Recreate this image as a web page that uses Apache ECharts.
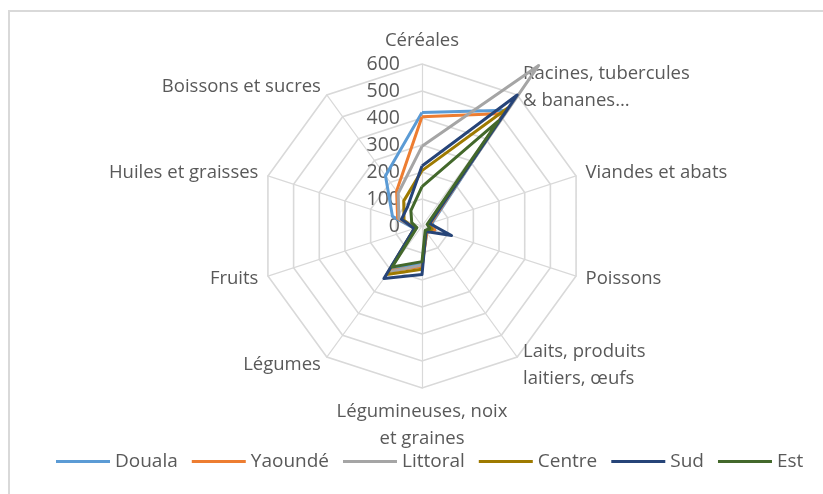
<!DOCTYPE html>
<html>
<head>
<meta charset="utf-8">
<script src="https://cdn.jsdelivr.net/npm/echarts@6/dist/echarts.min.js"></script>
<style>
  html, body { margin: 0; padding: 0; background: #fff; }
  #frame {
    position: absolute; left: 8px; top: 10px; width: 830px; height: 500px;
    border-left: 2px solid #d9d9d9; border-top: 2px solid #d9d9d9;
  }
  #main { position: absolute; left: 0; top: 0; width: 823px; height: 494px; }
</style>
</head>
<body>
<div id="frame"></div>
<div id="main"></div>
<script>
// categories (axes of the radar), clockwise from the top
var categories = [
  "Céréales",
  "Racines, tubercules\n& bananes…",
  "Viandes et abats",
  "Poissons",
  "Laits, produits\nlaitiers, œufs",
  "Légumineuses, noix\net graines",
  "Légumes",
  "Fruits",
  "Huiles et graisses",
  "Boissons et sucres"
];
var tickMax = 600;
var tickStep = 100;

// values per region, same order as categories
var douala   = [420, 530, 40, 50, 30, 140, 200, 30, 115, 230];
var yaounde  = [405, 515, 35, 50, 30, 150, 205, 25, 95, 160];
var littoral = [295, 735, 30, 40, 25, 145, 210, 25, 90, 150];
var centre   = [205, 540, 25, 40, 25, 160, 222, 30, 70, 115];
var sud      = [222, 600, 30, 115, 25, 180, 240, 30, 80, 90];
var est      = [146, 480, 20, 30, 20, 132, 188, 20, 40, 70];

var seriesNames = ["Douala", "Yaoundé", "Littoral", "Centre", "Sud", "Est"];
var seriesValues = [douala, yaounde, littoral, centre, sud, est];
var colors = ["#5b9bd5", "#ed7d31", "#a5a5a5", "#9e7a00", "#264478", "#43682b"];

var font = "'Open Sans', sans-serif";
var grey = "#595959";

// echarts lays indicators out counter-clockwise, so flip the order
// (keep the first one on top) to get Excel's clockwise layout
function cw(arr) {
  return [arr[0]].concat(arr.slice(1).reverse());
}

var chart = echarts.init(document.getElementById("main"));

var indicators = cw(categories).map(function (c, i) {
  var ind = { name: c, min: 0, max: tickMax };
  // only the vertical axis carries the tick labels
  if (i === 0) {
    ind.axisLabel = { show: true };
  }
  return ind;
});

chart.setOption({
  animation: false,
  color: colors,
  legend: {
    bottom: 18,
    left: 0,
    width: 820,
    itemWidth: 54,
    itemHeight: 3,
    itemGap: 14,
    icon: "rect",
    textStyle: { color: grey, fontSize: 19, fontFamily: font },
    data: seriesNames
  },
  radar: {
    center: [422, 226],
    radius: 162,
    startAngle: 90,
    shape: "polygon",
    splitNumber: tickMax / tickStep,
    nameGap: 10,
    axisName: { color: grey, fontSize: 18.5, fontFamily: font, lineHeight: 27 },
    axisLine: { lineStyle: { color: "#d9d9d9", width: 1.2 } },
    splitLine: { lineStyle: { color: "#d9d9d9", width: 1.6 } },
    splitArea: { show: false },
    axisTick: { show: false },
    axisLabel: {
      show: false,
      color: grey,
      fontSize: 19.5,
      fontFamily: font,
      margin: 22
    },
    indicator: indicators
  },
  series: [{
    type: "radar",
    symbol: "none",
    lineStyle: { width: 3 },
    data: seriesNames.map(function (n, i) {
      return {
        name: n,
        value: cw(seriesValues[i]),
        lineStyle: { color: colors[i], width: 3 },
        itemStyle: { color: colors[i] }
      };
    })
  }]
});

// center the legend row around x=430 like the reference
var lg = chart.getModel().getComponent("legend");
var view = chart.getViewOfComponentModel(lg);
var w = view.group.getBoundingRect().width;
chart.setOption({ legend: { left: Math.round(430 - w / 2) } });
</script>
</body>
</html>
